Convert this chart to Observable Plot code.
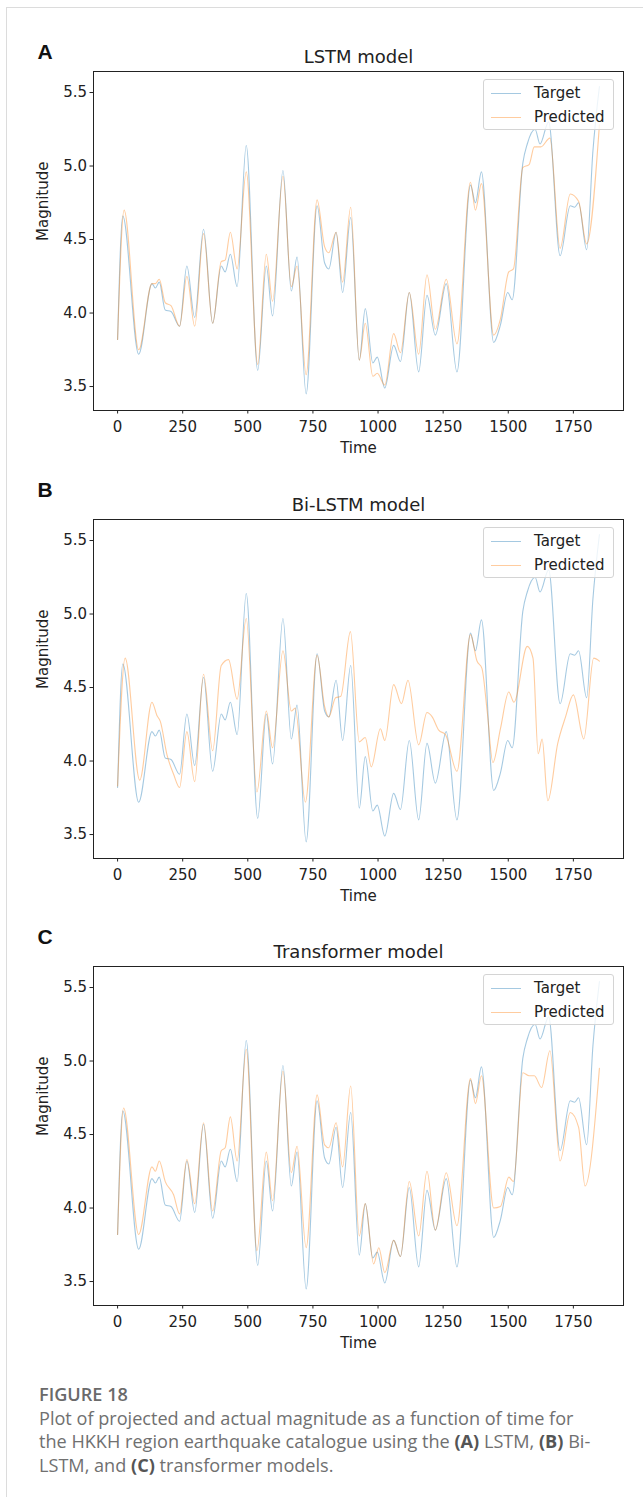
<!DOCTYPE html>
<html>
<head>
<meta charset="utf-8">
<script src="https://cdn.jsdelivr.net/npm/d3@7"></script>
<script src="https://cdn.jsdelivr.net/npm/@observablehq/plot@0.6"></script>
<style>
  body { margin: 0; background: #fff; }
  #wrap { position: relative; width: 643px; height: 1497px; overflow: hidden; background: #fff; }
  .border { position: absolute; left: 6px; top: 7px; right: 0; bottom: 0; border-left: 1px solid #dcdcdc; border-top: 1px solid #dcdcdc; }
  .panel { position: absolute; left: 0; width: 643px; height: 448px; }
  .legend { position: absolute; left: 483px; width: 131px; height: 51px; box-sizing: border-box;
            border: 1px solid #d4d4d4; border-radius: 3px; background: rgba(255,255,255,0.8);
            font-family: "DejaVu Sans", sans-serif; font-size: 15px; color: #222; }
  .legend .ln { position: absolute; left: 7px; width: 30px; height: 1px; }
  .legend .tx { position: absolute; left: 50px; line-height: 18px; white-space: nowrap; }
  .caption { position: absolute; left: 39px; top: 1383px; font-family: "Open Sans", Lato, sans-serif;
             font-size: 16px; line-height: 23.7px; color: #707070; white-space: nowrap; }
  .caption .fig { font-weight: 600; color: #6a6a6a; }
  .caption b { color: #555; font-weight: 700; }
</style>
</head>
<body>
<div id="wrap"><div class="border"></div></div>
<script>
// ---- data ----
const panelLetters = ["A", "B", "C"];
const panelTitles = ["LSTM model", "Bi-LSTM model", "Transformer model"];
const seriesNames = ["Target", "Predicted"];
const xTicks = [0, 250, 500, 750, 1000, 1250, 1500, 1750];
const yTicks = [3.5, 4.0, 4.5, 5.0, 5.5];

// [time, magnitude]
const target = [[0,3.82],[20,4.66],[81,3.72],[132,4.20],[145,4.17],[160,4.21],[183,4.02],[205,4.01],[238,3.91],[266,4.32],[296,3.97],[330,4.57],[365,3.93],[398,4.32],[413,4.28],[433,4.40],[459,4.18],[494,5.14],[538,3.61],[571,4.32],[595,3.98],[635,4.97],[667,4.15],[689,4.38],[724,3.45],[766,4.73],[795,4.34],[811,4.30],[839,4.55],[864,4.14],[895,4.65],[928,3.68],[951,4.03],[980,3.66],[997,3.70],[1026,3.49],[1060,3.78],[1086,3.67],[1120,4.14],[1156,3.60],[1188,4.12],[1220,3.85],[1262,4.20],[1303,3.60],[1355,4.87],[1374,4.75],[1397,4.96],[1444,3.80],[1470,3.92],[1498,4.14],[1515,4.09],[1556,5.02],[1573,5.15],[1603,5.25],[1622,5.15],[1655,5.30],[1699,4.39],[1738,4.73],[1755,4.72],[1770,4.75],[1801,4.43],[1825,5.10],[1850,5.54]];

const lstmPred = [[0,3.82],[25,4.70],[81,3.75],[132,4.20],[145,4.20],[160,4.23],[183,4.07],[205,4.05],[238,3.91],[266,4.25],[296,3.91],[330,4.54],[365,3.93],[398,4.35],[413,4.36],[433,4.55],[459,4.30],[494,4.96],[538,3.65],[571,4.40],[595,4.08],[635,4.93],[667,4.18],[689,4.32],[724,3.58],[766,4.77],[795,4.45],[811,4.41],[839,4.55],[864,4.21],[895,4.72],[928,3.68],[951,3.93],[980,3.57],[997,3.59],[1026,3.51],[1060,3.86],[1086,3.73],[1120,4.14],[1156,3.72],[1188,4.26],[1220,3.89],[1262,4.23],[1303,3.79],[1355,4.89],[1374,4.70],[1397,4.88],[1444,3.85],[1470,3.96],[1502,4.28],[1520,4.30],[1556,4.99],[1580,5.01],[1600,5.13],[1625,5.13],[1660,5.19],[1699,4.44],[1738,4.81],[1770,4.76],[1801,4.47],[1850,5.28]];

const bilstmPred = [[0,3.83],[29,4.70],[85,3.87],[132,4.40],[151,4.31],[164,4.27],[190,4.04],[215,3.91],[238,3.82],[266,4.20],[296,3.86],[330,4.59],[365,4.07],[398,4.65],[426,4.69],[459,4.42],[494,4.97],[535,3.79],[571,4.34],[595,4.09],[635,4.75],[667,4.34],[682,4.36],[721,3.72],[766,4.72],[795,4.37],[811,4.30],[837,4.43],[857,4.44],[894,4.88],[928,4.13],[951,4.16],[974,3.96],[1009,4.22],[1026,4.14],[1060,4.52],[1090,4.39],[1115,4.55],[1156,4.11],[1188,4.33],[1208,4.30],[1233,4.21],[1259,4.18],[1303,3.93],[1355,4.86],[1380,4.68],[1399,4.63],[1419,4.34],[1441,3.99],[1470,4.22],[1502,4.47],[1522,4.40],[1573,4.78],[1595,4.70],[1615,4.05],[1630,4.15],[1652,3.73],[1690,4.12],[1720,4.30],[1750,4.45],[1790,4.15],[1828,4.70],[1850,4.68]];

const transformerPred = [[0,3.82],[23,4.68],[81,3.82],[132,4.28],[145,4.25],[160,4.32],[183,4.18],[215,4.09],[238,3.96],[266,4.33],[296,4.03],[330,4.58],[365,3.98],[398,4.39],[413,4.41],[433,4.62],[459,4.32],[494,5.08],[535,3.71],[571,4.38],[595,4.05],[635,4.93],[667,4.24],[689,4.42],[724,3.73],[766,4.77],[795,4.43],[811,4.41],[839,4.58],[864,4.28],[895,4.83],[928,3.81],[951,4.03],[983,3.62],[1003,3.73],[1026,3.56],[1060,3.78],[1086,3.67],[1120,4.18],[1156,3.81],[1188,4.25],[1220,3.85],[1262,4.24],[1303,3.88],[1355,4.88],[1374,4.71],[1397,4.90],[1444,4.00],[1470,4.01],[1502,4.21],[1520,4.18],[1556,4.92],[1580,4.90],[1600,4.90],[1628,4.82],[1660,5.07],[1699,4.32],[1738,4.65],[1770,4.55],[1795,4.15],[1850,4.95]];

const predictions = [lstmPred, bilstmPred, transformerPred];
const captionHead = "FIGURE 18";
const captionLines = [
  "Plot of projected and actual magnitude as a function of time for",
  "the HKKH region earthquake catalogue using the <b>(A)</b> LSTM, <b>(B)</b> Bi-",
  "LSTM, and <b>(C)</b> transformer models."
];

// ---- drawing ----
const blue = "#1f77b4", orange = "#ff7f0e", lineAlpha = 0.4;
const wrap = document.getElementById("wrap");
const toRows = arr => arr.map(([t, v]) => ({t, v}));
const panelTops = [0, 448, 895];

panelLetters.forEach((letter, i) => {
  const top = panelTops[i];
  const chart = Plot.plot({
    width: 643, height: 448,
    marginLeft: 93, marginRight: 20, marginTop: 71, marginBottom: 38,
    style: {background: "transparent", overflow: "visible", fontFamily: "DejaVu Sans, sans-serif", fontSize: "15px", color: "#222"},
    x: {domain: [-92.5, 1942.5], ticks: xTicks, tickSize: 3.5, tickPadding: 7, label: null, tickFormat: d => String(d)},
    y: {domain: [3.337, 5.643], ticks: yTicks, tickSize: 3.5, tickPadding: 3, label: null, tickFormat: d => d.toFixed(1)},
    marks: [
      Plot.line(toRows(target), {x: "t", y: "v", stroke: blue, strokeOpacity: lineAlpha, strokeWidth: 1.1, curve: "monotone-x"}),
      Plot.line(toRows(predictions[i]), {x: "t", y: "v", stroke: orange, strokeOpacity: lineAlpha, strokeWidth: 1.1, curve: "monotone-x"}),
      Plot.frame({stroke: "#222", strokeWidth: 1}),
      Plot.text([panelTitles[i]], {text: d => d, frameAnchor: "top", lineAnchor: "middle", dy: -14.5, fontSize: 18, fill: "#222"}),
      Plot.text([letter], {text: d => d, frameAnchor: "top-left", lineAnchor: "middle", textAnchor: "start", dx: -56, dy: i === 0 ? -19 : -29,
                           fontSize: 21, fontWeight: "bold", fontFamily: "Liberation Sans, Arial, sans-serif", fill: "#111"}),
      Plot.text(["Magnitude"], {text: d => d, frameAnchor: "left", lineAnchor: "middle", rotate: -90, dx: -50, fontSize: 15, fill: "#222"}),
      Plot.text(["Time"], {text: d => d, frameAnchor: "bottom", lineAnchor: "middle", dy: 38, fontSize: 15, fill: "#222"})
    ]
  });
  chart.classList.add("panel");
  chart.style.top = top + "px";
  chart.style.position = "absolute";
  wrap.appendChild(chart);

  const lg = document.createElement("div");
  lg.className = "legend";
  lg.style.top = (top + 71 + 8) + "px";
  const colors = [blue, orange];
  seriesNames.forEach((name, k) => {
    const cy = 13 + k * 24;
    const ln = document.createElement("div");
    ln.className = "ln";
    ln.style.top = cy + "px";
    ln.style.background = colors[k];
    ln.style.opacity = lineAlpha;
    lg.appendChild(ln);
    const tx = document.createElement("div");
    tx.className = "tx";
    tx.style.top = (cy - 9) + "px";
    tx.textContent = name;
    lg.appendChild(tx);
  });
  wrap.appendChild(lg);
});

// caption: size the font so the first line spans the reference width (~535px)
const cap = document.createElement("div");
cap.className = "caption";
const ctx = document.createElement("canvas").getContext("2d");
ctx.font = '16px "Open Sans"';
const w = ctx.measureText(captionLines[0]).width;
const fs = Math.max(14, Math.min(19, 16 * 535 / w));
cap.style.fontSize = fs.toFixed(2) + "px";
cap.innerHTML = `<span class="fig">${captionHead}</span><br>` + captionLines.join("<br>");
wrap.appendChild(cap);
</script>
</body>
</html>
